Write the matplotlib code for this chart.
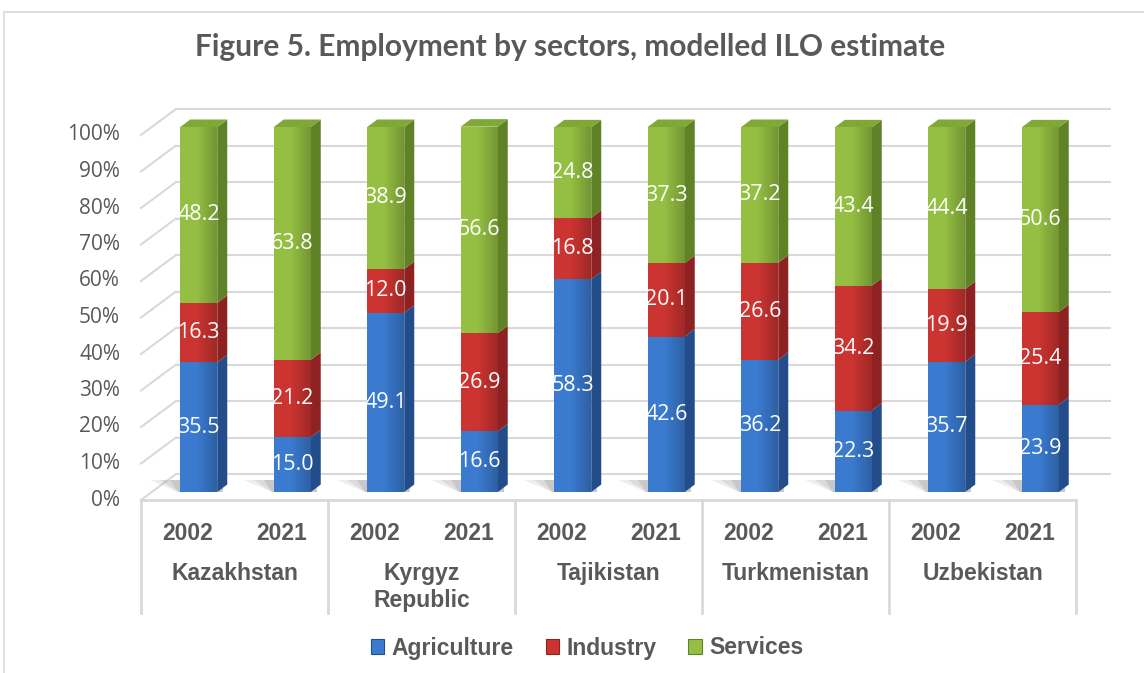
import matplotlib
matplotlib.use("Agg")
import matplotlib.pyplot as plt
from matplotlib.patches import Polygon, Rectangle, Patch
import numpy as np

# ---------------- data ----------------
countries = ["Kazakhstan", "Kyrgyz\nRepublic", "Tajikistan", "Turkmenistan", "Uzbekistan"]
years = ["2002", "2021"]
sectors = ["Agriculture", "Industry", "Services"]
agriculture = [35.5, 15.0, 49.1, 16.6, 58.3, 42.6, 36.2, 22.3, 35.7, 23.9]
industry = [16.3, 21.2, 12.0, 26.9, 16.8, 20.1, 26.6, 34.2, 19.9, 25.4]
services = [48.2, 63.8, 38.9, 56.6, 24.8, 37.3, 37.2, 43.4, 44.4, 50.6]
y_ticks = [0, 10, 20, 30, 40, 50, 60, 70, 80, 90, 100]
title = "Figure 5. Employment by sectors, modelled ILO estimate"

# ---------------- style ----------------
front_cols = ["#3a7bd0", "#cc3431", "#94bf42"]
side_cols = ["#234d8a", "#8e2222", "#5f8227"]
top_cols = ["#5a95dd", "#d85a55", "#7fa836"]
grid_col = "#d9d9d9"
text_col = "#595959"

W, H = 1144, 673
fig = plt.figure(figsize=(W / 100, H / 100), dpi=100)

# axes: bar-front plane, x slots of 93.5 px, y 0..100 over 365 px
ax_left, ax_bottom, ax_w, ax_h = 152, H - 492, 935, 365
ax = fig.add_axes([ax_left / W, ax_bottom / H, ax_w / W, ax_h / H])
n = len(agriculture)
ax.axis("off")

px_x = ax_w / n          # pixels per x unit
px_y = ax_h / 100.0      # pixels per percent


def off(x, y, dxp, dyp):
    """shift a data point by a pixel offset (dxp right, dyp up)"""
    return (x + dxp / px_x, y + dyp / px_y)


front_d = (-11, -8)   # floor front edge relative to bar plane
back_d = (24, 18)     # back wall relative to bar plane
bar_d = (10, 7.5)     # bar depth

# outer chart border
fig.patches.append(Rectangle((4 / W, -0.05), 1.2, (H - 12) / H + 0.05,
                             transform=fig.transFigure, fill=False,
                             edgecolor=grid_col, lw=1.2))

x0, x1 = -0.5, n - 0.5
# back wall gridlines and left wall diagonals
for v in y_ticks:
    p0 = off(x0, v, *back_d)
    p1 = off(x1, v, *back_d)
    ax.plot([p0[0], p1[0]], [p0[1], p1[1]], color=grid_col, lw=1.5,
            clip_on=False, zorder=1, solid_capstyle="butt")
    q0 = off(x0, v, *front_d)
    ax.plot([q0[0], p0[0]], [q0[1], p0[1]], color=grid_col, lw=1.5,
            clip_on=False, zorder=1)
    ax.text(*off(x0, v, -32, -8), f"{v}%", ha="right", va="center",
            fontsize=15, color=text_col, family="Open Sans")

# floor front edge
f0 = off(x0, 0, *front_d)
f1 = off(x1, 0, *front_d)
ax.plot([f0[0], f1[0]], [f0[1], f1[1]], color=grid_col, lw=2.0,
        clip_on=False, zorder=1)

# shadows on the floor
xs = np.arange(n)
bw = 37 / px_x
for k in xs:
    for j, (ext, al) in enumerate([(30, 0.18), (20, 0.25), (10, 0.35)]):
        sh = Polygon([off(k - bw / 2, 0, -2, 0), off(k + bw / 2, 0, 6, 0),
                      off(k + bw / 2, 0, 6, 12), off(k - bw / 2, 0, -ext, 12)],
                     closed=True, facecolor="#a6a6a6", edgecolor="none",
                     alpha=al, zorder=1.5, clip_on=False)
        ax.add_patch(sh)

# stacked bars (front faces via ax.bar)
series = [agriculture, industry, services]
bottoms = np.zeros(n)
for si, vals in enumerate(series):
    vals = np.array(vals)
    ax.bar(xs, vals, width=bw, bottom=bottoms, color=front_cols[si],
           edgecolor="none", zorder=3, label=sectors[si])
    for k in xs:
        b = bottoms[k]
        t = b + vals[k]
        xr = k + bw / 2
        side = Polygon([(xr, b), (xr, t), off(xr, t, *bar_d), off(xr, b, *bar_d)],
                       closed=True, facecolor=side_cols[si], edgecolor="none",
                       zorder=2.5, clip_on=False)
        ax.add_patch(side)
        ax.text(k, (b + t) / 2, f"{vals[k]:.1f}", ha="center", va="center",
                color="white", fontsize=15.5, family="Open Sans", zorder=5)
    bottoms = bottoms + vals

# subtle horizontal shading on the front faces
grad = np.zeros((1, 64, 4))
grad[0, :, 3] = np.clip((np.linspace(0, 1, 64) - 0.45) / 0.55, 0, 1) * 0.22
for k in xs:
    ax.imshow(grad, extent=(k - bw / 2, k + bw / 2, 0, bottoms[k]),
              aspect="auto", zorder=3.5, interpolation="bilinear")

# top faces
for k in xs:
    t = bottoms[k]
    xl, xr = k - bw / 2, k + bw / 2
    top = Polygon([(xl, t), (xr, t), off(xr, t, *bar_d), off(xl, t, *bar_d)],
                  closed=True, facecolor=top_cols[2], edgecolor="none",
                  zorder=2.6, clip_on=False)
    ax.add_patch(top)

ax.set_xlim(-0.5, n - 0.5)
ax.set_ylim(0, 100)

# category table below floor
ng = len(countries)
for g in range(ng + 1):
    xb = -0.5 + 2 * g
    a = off(xb, 0, front_d[0], front_d[1])
    b = off(xb, 0, front_d[0], -121)
    ax.plot([a[0], b[0]], [a[1], b[1]], color=grid_col, lw=2.0, clip_on=False)

for k in xs:
    ax.text(*off(k, 0, -11, -41), years[k % 2], ha="center", va="center",
            fontsize=16.5, fontweight="bold", color=text_col,
            family="Liberation Sans")
for g, c in enumerate(countries):
    ax.text(*off(2 * g + 0.5, 0, -11, -70), c, ha="center", va="top",
            fontsize=16.5, fontweight="bold", color=text_col,
            family="Liberation Sans", linespacing=1.2)

fig.text(570 / W, 1 - 47 / H, title, ha="center", va="center",
         fontsize=21.5, fontweight="bold", color=text_col, family="Lato")

handles = [Patch(facecolor=front_cols[i], edgecolor=side_cols[i], lw=0.8)
           for i in range(3)]
leg = fig.legend(handles, sectors, loc="center", bbox_to_anchor=(587 / W, 1 - 648 / H),
                 ncol=3, frameon=False, handlelength=0.6, handleheight=0.6,
                 handletextpad=0.3, columnspacing=1.4,
                 prop={"family": "Liberation Sans", "weight": "bold", "size": 16.5})
for t in leg.get_texts():
    t.set_color(text_col)

fig.savefig("out.png", dpi=100)
